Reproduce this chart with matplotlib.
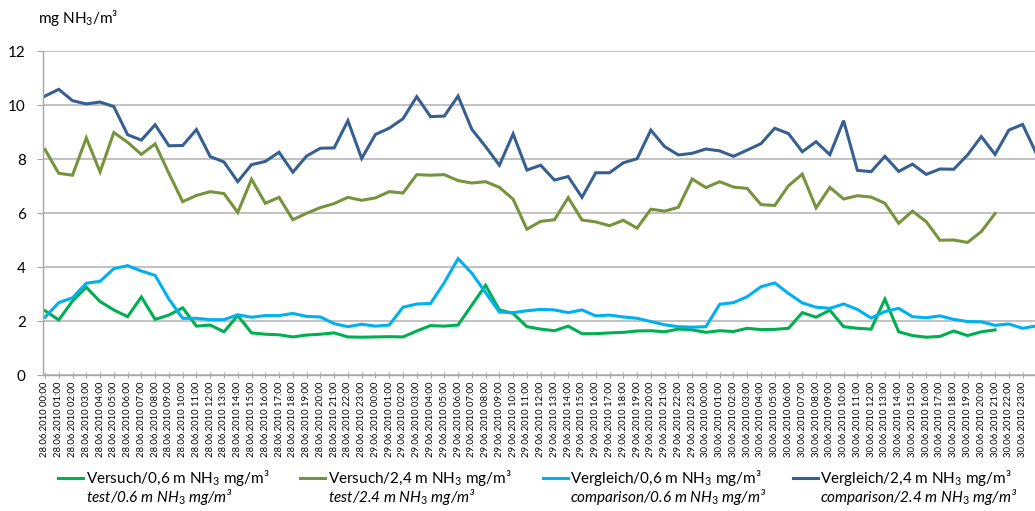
import matplotlib
matplotlib.use("Agg")
from matplotlib import pyplot as plt
import numpy as np
import pandas as pd

plt.rcParams["font.family"] = ["Lato", "DejaVu Sans"]
plt.rcParams["mathtext.fontset"] = "custom"
plt.rcParams["mathtext.rm"] = "Lato"
plt.rcParams["mathtext.it"] = "Lato:italic"
plt.rcParams["mathtext.bf"] = "Lato:bold"

# hourly categories 28.06.2010 00:00 ... (last one is cut off at the right edge)
time_labels = [t.strftime("%d.%m.%Y %H:%M")
               for t in pd.date_range("2010-06-28 00:00", periods=73, freq="h")]

versuch_06 = [2.38, 2.04, 2.74, 3.25, 2.72, 2.41, 2.16, 2.89, 2.06, 2.22,
              2.49, 1.81, 1.85, 1.60, 2.20, 1.56, 1.51, 1.49, 1.41, 1.48,
              1.51, 1.56, 1.41, 1.40, 1.41, 1.42, 1.41, 1.63, 1.83, 1.81,
              1.85, 2.59, 3.32, 2.41, 2.28, 1.79, 1.70, 1.64, 1.81, 1.53,
              1.53, 1.56, 1.58, 1.63, 1.64, 1.60, 1.70, 1.67, 1.58, 1.64,
              1.61, 1.73, 1.68, 1.69, 1.73, 2.31, 2.14, 2.40, 1.79, 1.73,
              1.70, 2.81, 1.60, 1.46, 1.40, 1.43, 1.63, 1.46, 1.60, 1.67]

versuch_24 = [8.35, 7.47, 7.40, 8.78, 7.52, 8.98, 8.62, 8.17, 8.56, 7.47,
              6.42, 6.65, 6.79, 6.72, 6.02, 7.25, 6.36, 6.58, 5.75, 5.99,
              6.20, 6.35, 6.58, 6.47, 6.56, 6.79, 6.74, 7.42, 7.40, 7.42,
              7.20, 7.11, 7.16, 6.95, 6.51, 5.40, 5.69, 5.75, 6.57, 5.74,
              5.67, 5.53, 5.73, 5.44, 6.14, 6.07, 6.21, 7.26, 6.94, 7.16,
              6.96, 6.91, 6.31, 6.28, 7.01, 7.44, 6.19, 6.95, 6.52, 6.64,
              6.59, 6.36, 5.62, 6.07, 5.68, 4.99, 5.00, 4.91, 5.31, 5.98]

vergleich_06 = [2.14, 2.68, 2.86, 3.40, 3.47, 3.94, 4.05, 3.85, 3.69, 2.81,
                2.10, 2.10, 2.05, 2.05, 2.23, 2.14, 2.20, 2.20, 2.28, 2.17,
                2.15, 1.90, 1.79, 1.88, 1.81, 1.85, 2.51, 2.63, 2.65, 3.42,
                4.31, 3.77, 3.05, 2.33, 2.31, 2.38, 2.43, 2.41, 2.31, 2.41,
                2.19, 2.22, 2.15, 2.10, 1.98, 1.86, 1.79, 1.77, 1.79, 2.62,
                2.68, 2.90, 3.27, 3.41, 3.02, 2.67, 2.51, 2.47, 2.63, 2.43,
                2.11, 2.35, 2.47, 2.16, 2.12, 2.19, 2.06, 1.98, 1.97, 1.84,
                1.89, 1.73, 1.82]

vergleich_24 = [10.33, 10.58, 10.16, 10.04, 10.11, 9.94, 8.90, 8.70, 9.27, 8.49,
                8.50, 9.09, 8.09, 7.89, 7.16, 7.79, 7.91, 8.25, 7.51, 8.11,
                8.40, 8.41, 9.42, 8.02, 8.91, 9.14, 9.49, 10.31, 9.57, 9.59,
                10.33, 9.10, 8.46, 7.77, 8.93, 7.59, 7.77, 7.22, 7.35, 6.58,
                7.49, 7.49, 7.86, 8.01, 9.07, 8.46, 8.15, 8.21, 8.37, 8.30,
                8.10, 8.33, 8.57, 9.14, 8.94, 8.27, 8.64, 8.16, 9.42, 7.58,
                7.53, 8.10, 7.54, 7.81, 7.43, 7.63, 7.62, 8.15, 8.83, 8.17,
                9.07, 9.28, 8.20]

labels_de = ["Versuch/0,6 m NH$_3$ mg/m³", "Versuch/2,4 m NH$_3$ mg/m³",
             "Vergleich/0,6 m NH$_3$ mg/m³", "Vergleich/2,4 m NH$_3$ mg/m³"]
labels_en = [r"test/0.6 m NH$_{\it{3}}$ mg/m³", r"test/2.4 m NH$_{\it{3}}$ mg/m³",
             r"comparison/0.6 m NH$_{\it{3}}$ mg/m³", r"comparison/2.4 m NH$_{\it{3}}$ mg/m³"]
colors = ["#00B050", "#77933C", "#00B0F0", "#376092"]


def pad(values, n):
    arr = np.full(n, np.nan)
    arr[:len(values)] = values
    return arr


n = len(time_labels)
x = np.arange(n)
series = [pad(versuch_06, n), pad(versuch_24, n), pad(vergleich_06, n), pad(vergleich_24, n)]

W, H = 1035, 511
fig = plt.figure(figsize=(W / 100, H / 100), dpi=100)
ax = fig.add_axes([42.5 / W, 136 / H, 1 - 42.5 / W, 324 / H])

lines = []
for s, c in zip(series, colors):
    ln, = ax.plot(x, s, color=c, lw=2.2, solid_joinstyle="miter")
    lines.append(ln)

ax.set_ylim(0, 12)
ax.set_yticks(range(0, 13, 2))
ax.set_xlim(-0.18, 71.9)
# only label the categories that fit in the picture
ax.set_xticks(x[:72])
ax.set_xticklabels(time_labels[:72], rotation=90, fontsize=6.8, va="top")
ax.grid(axis="y", color="#B8B8B8", lw=1.2)
ax.set_axisbelow(True)
for side in ["top", "right"]:
    ax.spines[side].set_visible(False)
for side in ["left", "bottom"]:
    ax.spines[side].set_color("#A6A6A6")
    ax.spines[side].set_linewidth(1.0)
ax.tick_params(axis="x", direction="inout", length=5, color="#A6A6A6", pad=2)
ax.tick_params(axis="y", direction="out", length=4, color="#A6A6A6", pad=8, labelsize=11)

fig.text(38 / W, 1 - 18 / H, "mg NH$_3$/m³", fontsize=11, va="center", ha="left")

#legend: one block per series, english line as italic text below
legend_x = [58, 300, 543, 793]
legends = []
for ln, de, lx in zip(lines, labels_de, legend_x):
    leg = fig.legend([ln], [de], loc="center left",
                     bbox_to_anchor=(lx / W, 1 - 478 / H),
                     frameon=False, fontsize=11, borderpad=0, borderaxespad=0,
                     handlelength=1.65, handletextpad=0.15)
    legends.append(leg)

fig.canvas.draw()
for leg, en in zip(legends, labels_en):
    bb = leg.get_texts()[0].get_window_extent()
    fig.text(bb.x0 / W, 1 - 497 / H, en, fontsize=11, style="italic",
             va="center", ha="left")

fig.savefig("out.png", dpi=100)
